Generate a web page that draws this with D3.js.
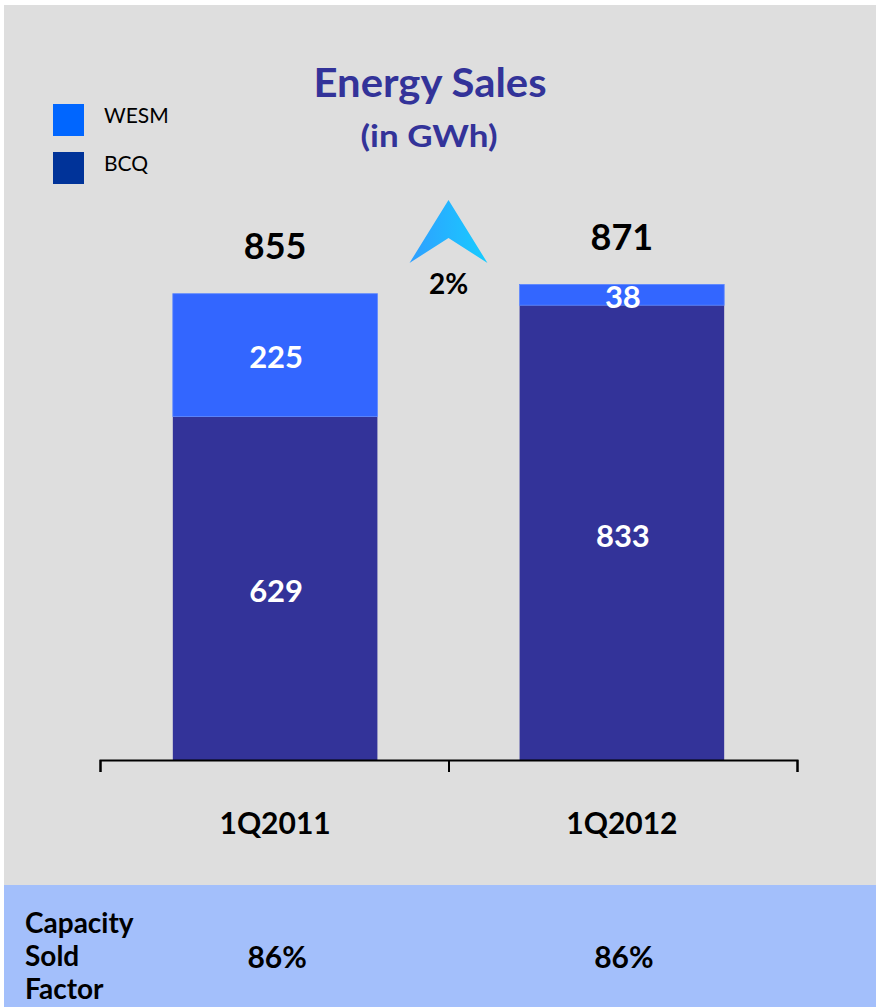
<!DOCTYPE html>
<html>
<head>
<meta charset="utf-8">
<script src="https://cdn.jsdelivr.net/npm/d3@7"></script>
<style>
    body { margin: 0; background: #ffffff; }
    svg text { font-family: Lato, "Open Sans", sans-serif; }
</style>
</head>
<body>
<div id="chart"></div>
<script>
const categories = ["1Q2011", "1Q2012"];
const bcqValues = [629, 833];
const wesmValues = [225, 38];
const totalValues = [855, 871];
const capacityFactor = ["86%", "86%"];
const growthLabel = "2%";
const seriesNames = ["WESM", "BCQ"];

const W = 876, H = 1007;
const plotTop = 214, plotBottom = 760;
const axisLeft = 100, axisRight = 797;

let svg = d3.select("#chart").append("svg")
    .attr("width", W)
    .attr("height", H);

// panels
svg.append("rect").attr("x", 4).attr("y", 5).attr("width", W - 4).attr("height", 880).attr("fill", "#dedede");
svg.append("rect").attr("x", 4).attr("y", 885).attr("width", W - 4).attr("height", H - 885).attr("fill", "#a3bffb");

// title
svg.append("text").attr("x", 430).attr("y", 97).attr("text-anchor", "middle")
    .attr("font-size", 40).attr("font-weight", "bold").attr("fill", "#333399")
    .attr("textLength", 233).attr("lengthAdjust", "spacingAndGlyphs")
    .text("Energy Sales");
svg.append("text").attr("x", 429).attr("y", 147).attr("text-anchor", "middle")
    .attr("font-size", 31).attr("font-weight", "bold").attr("fill", "#333399")
    .attr("textLength", 137).attr("lengthAdjust", "spacingAndGlyphs")
    .text("(in GWh)");

// legend
const legendColors = ["#0066ff", "#003399"];
seriesNames.forEach((name, i) => {
    svg.append("rect").attr("x", 53).attr("y", 104 + i * 48).attr("width", 31).attr("height", 32)
        .attr("fill", legendColors[i]);
    svg.append("text").attr("x", 104).attr("y", 123 + i * 48)
        .attr("font-size", 21).attr("fill", "#000")
        .text(name);
});

// scales
let x = d3.scaleBand().domain(categories).range([axisLeft, axisRight]).paddingInner(0.41).paddingOuter(0.21);
let y = d3.scaleLinear().domain([0, 1000]).range([plotBottom, plotTop]);

let data = categories.map((c, i) => ({ cat: c, bcq: bcqValues[i], wesm: wesmValues[i], total: totalValues[i] }));

// bars
let g = svg.append("g");
g.selectAll("rect.bcq").data(data).enter().append("rect")
    .attr("class", "bcq")
    .attr("x", d => x(d.cat))
    .attr("y", d => y(d.bcq))
    .attr("width", x.bandwidth())
    .attr("height", d => y(0) - y(d.bcq))
    .attr("fill", "#333399");
g.selectAll("rect.wesm").data(data).enter().append("rect")
    .attr("class", "wesm")
    .attr("x", d => x(d.cat))
    .attr("y", d => y(d.bcq + d.wesm))
    .attr("width", x.bandwidth())
    .attr("height", d => y(d.bcq) - y(d.bcq + d.wesm))
    .attr("fill", "#3366ff")
    .attr("stroke", "#5b86ff").attr("stroke-width", 0.8);

// segment labels
g.selectAll("text.bcq").data(data).enter().append("text")
    .attr("x", d => x(d.cat) + x.bandwidth() / 2 + 1)
    .attr("y", d => (y(0) + y(d.bcq)) / 2 + 14)
    .attr("text-anchor", "middle").attr("font-size", 31).attr("font-weight", "bold").attr("fill", "#fff")
    .text(d => d.bcq);
g.selectAll("text.wesm").data(data).enter().append("text")
    .attr("x", d => x(d.cat) + x.bandwidth() / 2 + 1)
    .attr("y", d => (y(d.bcq) + y(d.bcq + d.wesm)) / 2 + 13)
    .attr("text-anchor", "middle").attr("font-size", 31).attr("font-weight", "bold").attr("fill", "#fff")
    .text(d => d.wesm);

// totals
g.selectAll("text.total").data(data).enter().append("text")
    .attr("x", d => x(d.cat) + x.bandwidth() / 2)
    .attr("y", d => y(d.total) - 34)
    .attr("text-anchor", "middle").attr("font-size", 36).attr("font-weight", "bold").attr("fill", "#000")
    .text(d => d.total);

// axis
let axis = d3.axisBottom(d3.scaleLinear().domain([0, 2]).range([axisLeft, axisRight]))
    .tickValues([0, 1, 2]).tickSize(12).tickFormat("");
let ag = svg.append("g").attr("transform", `translate(0, ${plotBottom})`).call(axis);
ag.selectAll("path, line").attr("stroke", "#000").attr("stroke-width", 2);

// category labels
svg.selectAll("text.cat").data(categories).enter().append("text")
    .attr("x", d => x(d) + x.bandwidth() / 2)
    .attr("y", 834)
    .attr("text-anchor", "middle").attr("font-size", 30).attr("font-weight", "bold").attr("fill", "#000")
    .text(d => d);

// growth arrow
let defs = svg.append("defs");
let grad = defs.append("linearGradient").attr("id", "arrowGrad").attr("x1", "0%").attr("x2", "100%");
grad.append("stop").attr("offset", "0%").attr("stop-color", "#2f9fff");
grad.append("stop").attr("offset", "100%").attr("stop-color", "#18ccff");
let ax = (x(categories[0]) + x.bandwidth() + x(categories[1])) / 2;
svg.append("path")
    .attr("d", `M${ax},200 L${ax + 39},263 L${ax},238 L${ax - 39},263 Z`)
    .attr("fill", "url(#arrowGrad)");
svg.append("text").attr("x", ax).attr("y", 294).attr("text-anchor", "middle")
    .attr("font-size", 28).attr("font-weight", "bold").attr("fill", "#000")
    .text(growthLabel);

// capacity sold factor row
["Capacity", "Sold", "Factor"].forEach((t, i) => {
    svg.append("text").attr("x", 25).attr("y", 933 + i * 33)
        .attr("font-size", 28).attr("font-weight", "bold").attr("fill", "#000")
        .text(t);
});
svg.selectAll("text.cf").data(categories).enter().append("text")
    .attr("x", d => x(d) + x.bandwidth() / 2 + 2)
    .attr("y", 968)
    .attr("text-anchor", "middle").attr("font-size", 30).attr("font-weight", "bold").attr("fill", "#000")
    .text((d, i) => capacityFactor[i]);
</script>
</body>
</html>
